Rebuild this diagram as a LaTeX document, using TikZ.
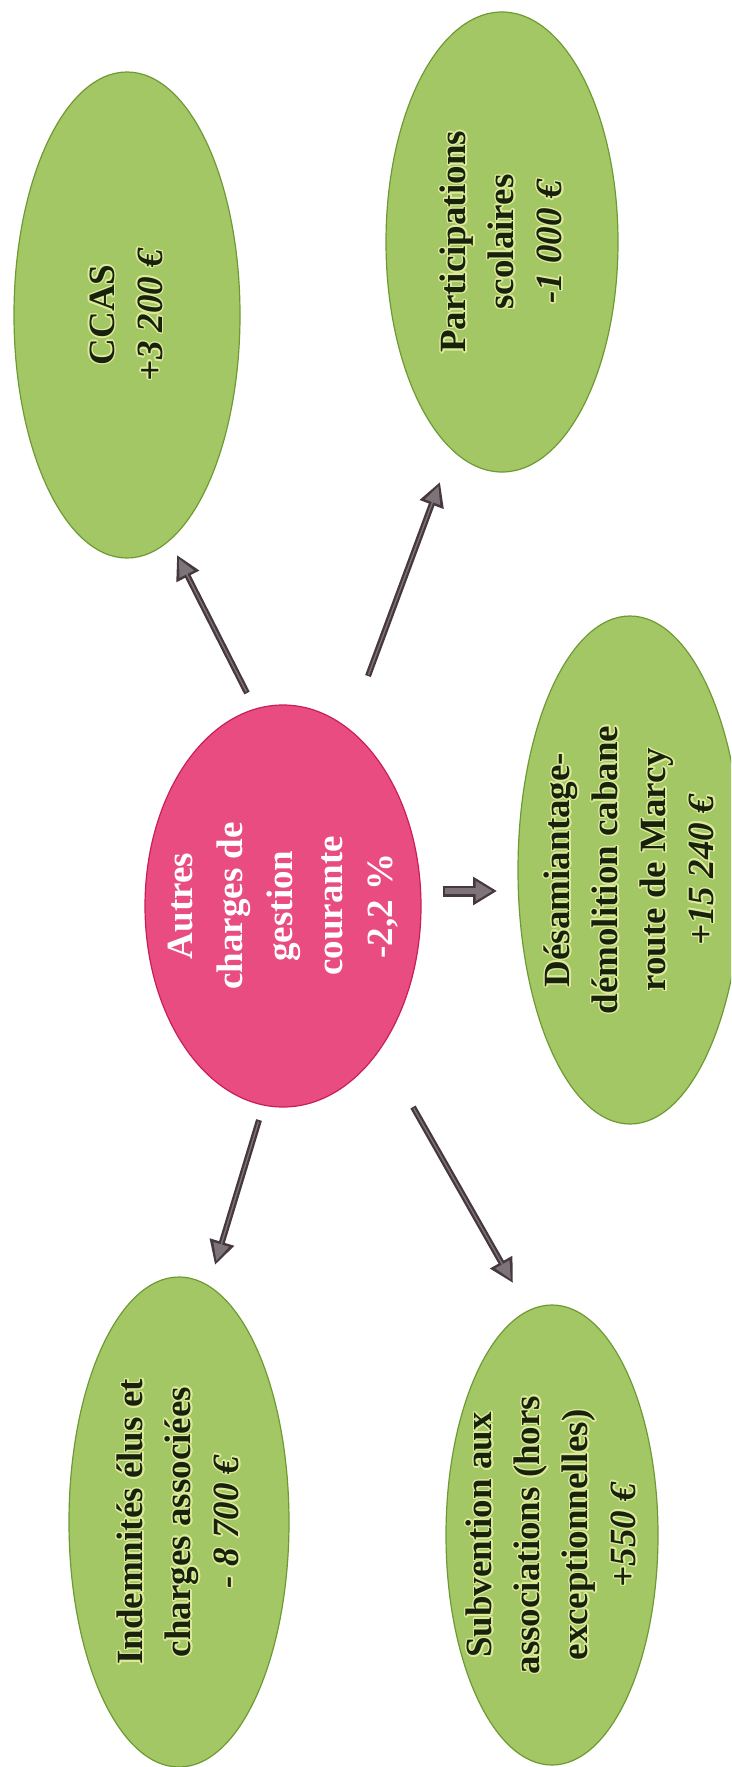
\documentclass[tikz,border=0pt]{standalone}
\usepackage{fontspec}
\setmainfont{Liberation Serif}
\usepackage[copies]{contour}
\contourlength{1.4pt}
\usetikzlibrary{shapes.geometric,arrows.meta}
\definecolor{gfill}{HTML}{A4C766}
\definecolor{gedge}{HTML}{6E9A33}
\definecolor{pfill}{HTML}{E84C80}
\definecolor{pedge}{HTML}{C81F5A}
\definecolor{adark}{HTML}{45383E}
\definecolor{agray}{HTML}{7E7378}
\definecolor{gtext}{HTML}{17210B}
\definecolor{glow}{HTML}{DCEA9A}
\newcommand{\glw}[1]{\contour{glow}{#1}}
\begin{document}
\begin{tikzpicture}[x=1pt,y=1pt,
  gell/.style={ellipse, fill=gfill, draw=gedge, line width=1.2pt, inner sep=0pt},
  pell/.style={ellipse, fill=pfill, draw=pedge, line width=1.2pt, inner sep=0pt},
  lbl/.style={rotate=90, align=center, inner sep=0pt},
  gtxt/.style={lbl, text=gtext, font=\fontsize{37}{48}\selectfont\bfseries},
  ptxt/.style={lbl, text=white, font=\fontsize{37}{50}\selectfont\bfseries},
  arrbase/.style={adark, line width=6pt, -{Triangle[length=24pt,width=24pt]}},
  arrcore/.style={agray, line width=1.4pt, shorten >=4.5pt, shorten <=1.5pt, -{Triangle[length=17pt,width=16pt]}},
  sbase/.style={adark, line width=11pt, -{Triangle[length=24pt,width=27pt]}},
  score/.style={agray, line width=6pt, shorten >=4.5pt, shorten <=2pt, -{Triangle[length=17pt,width=19pt]}},
]
\useasboundingbox (0,0) rectangle (731,-1767);
\fill[white] (0,0) rectangle (731,-1767);
\clip (0,0) rectangle (731,-1767);

% ellipses
\node[gell, minimum width=226pt, minimum height=486pt] (ccas) at (127,-315) {};
\node[gell, minimum width=232pt, minimum height=460pt] (part) at (502,-242) {};
\node[pell, minimum width=276pt, minimum height=402pt] (pink) at (283,-906) {};
\node[gell, minimum width=224pt, minimum height=508pt] (desam) at (630,-870) {};
\node[gell, minimum width=220pt, minimum height=490pt] (indem) at (179,-1522) {};
\node[gell, minimum width=212pt, minimum height=460pt] (subv) at (552,-1535) {};

% texts
\node[gtxt] (ccas-t) at (ccas) {\glw{CCAS}\\\glw{\itshape +3 200 €}};
\node[gtxt] (part-t) at (part) {\glw{Participations}\\\glw{scolaires}\\\glw{\itshape -1 000 €}};
\node[ptxt] (pink-t) at (pink) {Autres\\charges de\\gestion\\courante\\-2,2 \%};
\node[gtxt] (desam-t) at (desam) {\glw{Désamiantage-}\\\glw{démolition cabane}\\\glw{route de Marcy}\\\glw{\itshape +15 240 €}};
\node[gtxt] (indem-t) at (indem) {\glw{Indemnités élus et}\\\glw{charges associées}\\\glw{\itshape - 8 700 €}};
\node[gtxt] (subv-t) at (subv) {\glw{Subvention aux}\\\glw{associations (hors}\\\glw{exceptionnelles)}\\\glw{\itshape +550 €}};

% arrow end points (free ends between the ellipses)
\coordinate (a1s) at (247,-693);  \coordinate (a1e) at (177,-555);
\coordinate (a2s) at (368,-676);  \coordinate (a2e) at (440,-482);
\coordinate (a3s) at (443,-891);  \coordinate (a3e) at (497,-891);
\coordinate (a4s) at (259,-1120); \coordinate (a4e) at (215,-1265);
\coordinate (a5s) at (413,-1107); \coordinate (a5e) at (513,-1283);

\foreach \i in {1,2,4,5}{
  \draw[arrbase] (a\i s) -- (a\i e);
  \draw[arrcore] (a\i s) -- (a\i e);
}
\draw[sbase] (a3s) -- (a3e);
\draw[score] (a3s) -- (a3e);
\end{tikzpicture}
\end{document}
